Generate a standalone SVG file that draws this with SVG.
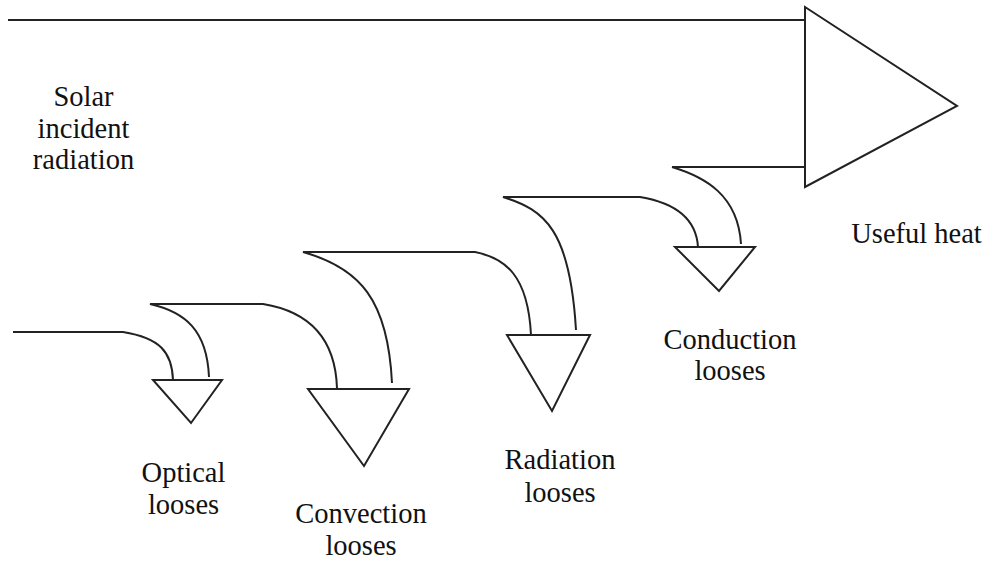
<svg xmlns="http://www.w3.org/2000/svg" width="987" height="561" viewBox="0 0 987 561">
<style>
.s{fill:none;stroke:#222;stroke-width:2;stroke-linejoin:miter}
.t{fill:#fff;stroke:#222;stroke-width:2}
text{font-family:'Liberation Serif','DejaVu Serif',serif;font-size:28.5px;fill:#111;text-anchor:middle}
</style>
<rect width="987" height="561" fill="#fff"/>
<g id="connectors">
<path class="s" d="M8,20 H805"/>
<path class="s" d="M672,167 H805"/>
<path class="s" d="M13,332 H123 C160,338 172,352 173,380"/>
<path class="s" d="M209,377 C207,330 185,312 150,304 H263 C300,310 335,330 337,388"/>
<path class="s" d="M392,383 C388,300 360,268 303,252 H475 C505,258 528,275 531,335"/>
<path class="s" d="M576,330 C570,230 545,210 503,197 H640 C670,202 696,215 698,247"/>
<path class="s" d="M741,244 C738,195 705,177 672,167"/>
</g>
<g id="useful-heat">
<polygon class="t" points="805,7 957,106 805,187"/>
<text x="916.5" y="243">Useful heat</text>
</g>
<g id="solar">
<text x="83.5" y="106">Solar</text>
<text x="83.5" y="137.5">incident</text>
<text x="83.5" y="169">radiation</text>
</g>
<g id="optical">
<polygon class="t" points="153,380 222,380 191,423"/>
<text x="183.5" y="482">Optical</text>
<text x="183.5" y="514">looses</text>
</g>
<g id="convection">
<polygon class="t" points="308,389 409,389 364,466"/>
<text x="361" y="522.5">Convection</text>
<text x="361" y="555">looses</text>
</g>
<g id="radiation">
<polygon class="t" points="507,335 590,335 552,411"/>
<text x="560" y="468.5">Radiation</text>
<text x="560" y="501.5">looses</text>
</g>
<g id="conduction">
<polygon class="t" points="675,247 755,247 719,291"/>
<text x="730" y="348.5">Conduction</text>
<text x="730" y="380">looses</text>
</g>
</svg>
